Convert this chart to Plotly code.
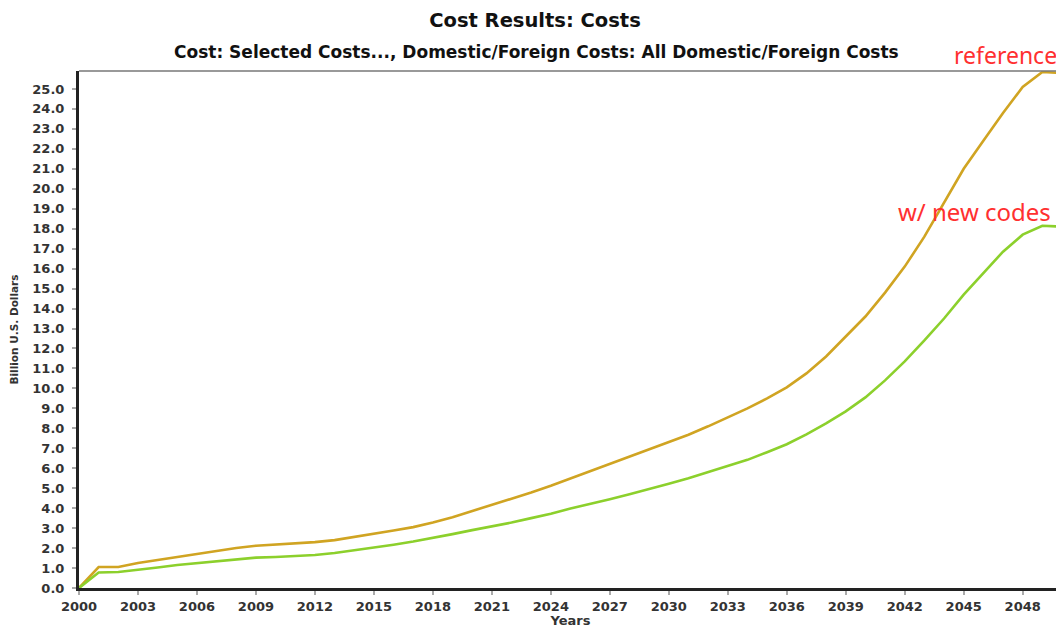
import plotly.graph_objects as go

years = list(range(2000, 2051))
reference_costs = [0.0, 1.05, 1.05, 1.25, 1.4, 1.55, 1.72, 1.87, 2.0, 2.12,
                   2.17, 2.22, 2.3, 2.4, 2.55, 2.7, 2.88, 3.05, 3.28, 3.55,
                   3.85, 4.15, 4.45, 4.78, 5.12, 5.48, 5.85, 6.22, 6.58, 6.95,
                   7.3, 7.68, 8.1, 8.55, 9.0, 9.5, 10.05, 10.75, 11.6, 12.6,
                   13.6, 14.8, 16.1, 17.6, 19.3, 21.0, 22.4, 23.8, 25.1, 25.85,
                   25.8]
new_codes_costs = [0.0, 0.78, 0.8, 0.9, 1.03, 1.15, 1.25, 1.35, 1.45, 1.52,
                   1.55, 1.6, 1.65, 1.75, 1.88, 2.02, 2.17, 2.33, 2.5, 2.7,
                   2.9, 3.08, 3.28, 3.5, 3.72, 3.98, 4.2, 4.45, 4.7, 4.95,
                   5.22, 5.5, 5.8, 6.1, 6.42, 6.8, 7.2, 7.7, 8.25, 8.85,
                   9.55, 10.4, 11.35, 12.4, 13.5, 14.7, 15.8, 16.85, 17.7, 18.15,
                   18.1]
x_tick_years = list(range(2000, 2049, 3))
y_tick_values = list(range(0, 26))

title_text = "Cost Results: Costs"
subtitle_text = "Cost: Selected Costs..., Domestic/Foreign Costs: All Domestic/Foreign Costs"
label_reference = "reference"
label_new = "w/ new codes"

fig = go.Figure()
fig.add_trace(go.Scatter(x=years, y=reference_costs, mode="lines",
                         line=dict(color="#D0A422", width=2.6), name=label_reference))
fig.add_trace(go.Scatter(x=years, y=new_codes_costs, mode="lines",
                         line=dict(color="#8CD02C", width=2.6), name=label_new))

# page body has an 8px margin; figure is sized/offset to compensate
OFF = 8
W, H = 1064 - OFF, 628 - OFF
L, R, T, B = 79 - OFF, 2, 71 - OFF, 40
pw, ph = W - L - R, H - T - B

def px_to_paper(px, py):
    # px, py are screen coordinates
    return (px - OFF - L) / pw, (H - B - (py - OFF)) / ph

tick_font = dict(family="DejaVu Sans", size=13, color="#333333", weight="bold")

fig.update_layout(
    width=W, height=H,
    margin=dict(l=L, r=R, t=T, b=B),
    paper_bgcolor="white", plot_bgcolor="white",
    showlegend=False,
    title=dict(text=title_text, x=(535 - OFF) / W, xanchor="center",
               y=1 - (20 - OFF) / H, yanchor="middle", yref="container",
               font=dict(family="DejaVu Sans", size=19.5, color="#111111", weight="bold")),
    xaxis=dict(range=[2000, 2050], tickvals=x_tick_years,
               ticks="outside", ticklen=4, tickwidth=2, tickcolor="#aaaaaa",
               showline=True, linewidth=3, linecolor="#222222",
               showgrid=False, zeroline=False, tickfont=tick_font,
               title=dict(text="Years", standoff=2,
                          font=dict(family="DejaVu Sans", size=13, color="#333333", weight="bold"))),
    yaxis=dict(range=[0, 25.9], tickvals=y_tick_values, tickformat=".1f",
               ticks="outside", ticklen=4, tickwidth=2, tickcolor="#aaaaaa",
               ticklabelstandoff=5,
               showline=True, linewidth=3, linecolor="#222222",
               showgrid=False, zeroline=False, tickfont=tick_font,
               title=dict(text="Billion U.S. Dollars", standoff=12,
                          font=dict(family="DejaVu Sans", size=10.5, color="#333333", weight="bold"))),
)

# thin top/right border
fig.add_shape(type="line", xref="paper", yref="paper", x0=0, x1=1, y0=1, y1=1,
              line=dict(color="#777777", width=1.5))
fig.add_shape(type="line", xref="paper", yref="paper", x0=1, x1=1, y0=0, y1=1,
              line=dict(color="#777777", width=1.5))

sx, sy = px_to_paper(536, 52)
fig.add_annotation(text=subtitle_text, xref="paper", yref="paper", x=sx, y=sy,
                   xanchor="center", yanchor="middle", showarrow=False,
                   font=dict(family="DejaVu Sans", size=17, color="#111111", weight="bold"))

rx, ry = px_to_paper(1005, 55)
fig.add_annotation(text=label_reference, xref="paper", yref="paper", x=rx, y=ry,
                   xanchor="center", yanchor="middle", showarrow=False,
                   font=dict(family="Noto Sans", size=23, color="#FF3030"))
nx, ny = px_to_paper(974, 211)
fig.add_annotation(text=label_new, xref="paper", yref="paper", x=nx, y=ny,
                   xanchor="center", yanchor="middle", showarrow=False,
                   font=dict(family="Noto Sans", size=24, color="#FF3030"))

fig.write_html("out.html")
